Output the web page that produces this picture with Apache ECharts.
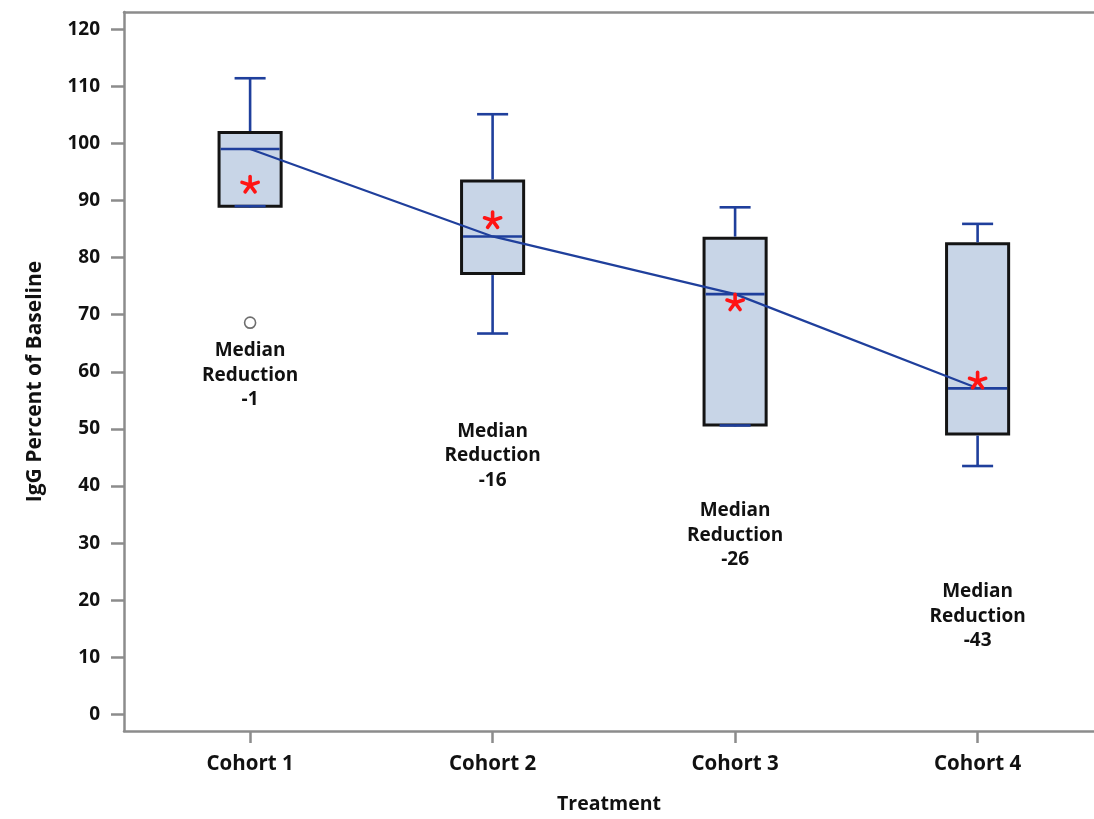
<!DOCTYPE html>
<html>
<head>
<meta charset="utf-8">
<script src="https://cdn.jsdelivr.net/npm/echarts@6/dist/echarts.min.js"></script>
<style>
  html, body { margin: 0; padding: 0; background: #ffffff; }
  #chart { width: 1094px; height: 819px; }
</style>
</head>
<body>
<div id="chart"></div>
<script>
// IgG percent of baseline by treatment cohort
const categories = ['Cohort 1', 'Cohort 2', 'Cohort 3', 'Cohort 4'];
const whiskerLow  = [89.0, 66.7, 50.6, 43.5];
const q1          = [89.0, 77.2, 50.7, 49.1];
const medians     = [99.0, 83.7, 73.6, 57.1];
const q3          = [101.9, 93.4, 83.4, 82.4];
const whiskerHigh = [111.4, 105.1, 88.8, 85.9];
const means       = [92.7, 86.5, 72.1, 58.4];
const outliers    = [[1, 68.6]];
const yTicks = [0, 10, 20, 30, 40, 50, 60, 70, 80, 90, 100, 110, 120];
const baseline = 100;

// vertical anchor (data units) of each "Median Reduction" annotation
const noteAnchor = [59.4, 45.3, 31.4, 17.2];

const FONT = '"Open Sans", "DejaVu Sans", sans-serif';
const BLUE = '#1f3f9c';
const AXIS_GRAY = '#8c8c8c';

const xPos = categories.map((_, i) => i + 1);

const boxData = xPos.map((x, i) => [x, whiskerLow[i], q1[i], medians[i], q3[i], whiskerHigh[i]]);
const meanData = xPos.map((x, i) => [x, means[i]]);
const medianLine = xPos.map((x, i) => [x, medians[i]]);
const noteData = xPos.map((x, i) => [x, noteAnchor[i], Math.round(medians[i] - baseline)]);

function renderBox(params, api) {
  const x = api.value(0);
  const bandPx = api.size([1, 0])[0];
  const hw = bandPx * 0.128;
  const cw = bandPx * 0.064;
  const c = api.coord([x, 0])[0];
  const yLow = api.coord([x, api.value(1)])[1];
  const yQ1 = api.coord([x, api.value(2)])[1];
  const yMed = api.coord([x, api.value(3)])[1];
  const yQ3 = api.coord([x, api.value(4)])[1];
  const yHigh = api.coord([x, api.value(5)])[1];
  const blue = { stroke: BLUE, lineWidth: 2.6 };
  return {
    type: 'group',
    children: [
      { type: 'rect', shape: { x: c - hw, y: yQ3, width: 2 * hw, height: yQ1 - yQ3 },
        style: { fill: '#c8d5e7', stroke: '#141414', lineWidth: 3 } },
      { type: 'line', shape: { x1: c - hw + 1.5, y1: yMed, x2: c + hw - 1.5, y2: yMed }, style: blue },
      { type: 'line', shape: { x1: c, y1: yQ3 - 1.5, x2: c, y2: yHigh }, style: blue },
      { type: 'line', shape: { x1: c - cw, y1: yHigh, x2: c + cw, y2: yHigh }, style: blue },
      { type: 'line', shape: { x1: c, y1: yQ1 + 1.5, x2: c, y2: yLow }, style: blue },
      { type: 'line', shape: { x1: c - cw, y1: yLow, x2: c + cw, y2: yLow }, style: blue }
    ]
  };
}

function renderAsterisk(params, api) {
  const p = api.coord([api.value(0), api.value(1)]);
  const r = 8.5;
  const children = [];
  for (let k = 0; k < 5; k++) {
    const a = (-90 + k * 72) * Math.PI / 180;
    children.push({
      type: 'line',
      shape: { x1: p[0], y1: p[1], x2: p[0] + r * Math.cos(a), y2: p[1] + r * Math.sin(a) },
      style: { stroke: '#ff1414', lineWidth: 3.6, lineCap: 'round' }
    });
  }
  return { type: 'group', children: children };
}

function renderNote(params, api) {
  const p = api.coord([api.value(0), api.value(1)]);
  return {
    type: 'text',
    x: p[0], y: p[1],
    style: {
      text: 'Median\nReduction\n' + api.value(2),
      fill: '#111111',
      font: 'bold 19px ' + FONT,
      lineHeight: 24.5,
      align: 'center',
      verticalAlign: 'middle'
    }
  };
}

const chart = echarts.init(document.getElementById('chart'), null, { renderer: 'canvas' });

chart.setOption({
  animation: false,
  backgroundColor: '#ffffff',
  grid: { left: 124, top: 12, right: 0, bottom: 86, containLabel: false },
  xAxis: [
    {
      type: 'value',
      min: 0.48, max: 4.48,
      name: 'Treatment',
      nameLocation: 'middle',
      nameGap: 63,
      nameTextStyle: { color: '#111111', fontFamily: FONT, fontWeight: 'bold', fontSize: 19.5 },
      axisLine: { show: true, onZero: false, lineStyle: { color: AXIS_GRAY, width: 2.5 } },
      axisTick: { show: true, length: 12, lineStyle: { color: AXIS_GRAY, width: 2.5 }, customValues: xPos },
      axisLabel: {
        color: '#111111', fontFamily: FONT, fontWeight: 'bold', fontSize: 20.5, margin: 23,
        customValues: xPos,
        formatter: v => categories[Math.round(v) - 1] || ''
      },
      splitLine: { show: false }
    },
    {
      type: 'value',
      position: 'top',
      min: 0.48, max: 4.48,
      axisLine: { show: true, onZero: false, lineStyle: { color: AXIS_GRAY, width: 2.5 } },
      axisTick: { show: false },
      axisLabel: { show: false },
      splitLine: { show: false }
    }
  ],
  yAxis: {
    type: 'value',
    min: -2.9, max: 123,
    name: 'IgG Percent of Baseline',
    nameLocation: 'middle',
    nameGap: 78,
    nameTextStyle: { color: '#111111', fontFamily: FONT, fontWeight: 'bold', fontSize: 21, padding: [0, 20, 0, 0] },
    axisLine: { show: true, onZero: false, lineStyle: { color: AXIS_GRAY, width: 2.5 } },
    axisTick: { show: true, length: 13, lineStyle: { color: AXIS_GRAY, width: 2.5 }, customValues: yTicks },
    axisLabel: {
      color: '#111111', fontFamily: FONT, fontWeight: 'bold', fontSize: 19, margin: 24,
      customValues: yTicks
    },
    splitLine: { show: false }
  },
  series: [
    {
      type: 'custom',
      name: 'box',
      renderItem: renderBox,
      data: boxData,
      encode: { x: 0, y: [1, 2, 3, 4, 5] },
      z: 2
    },
    {
      type: 'line',
      name: 'median trend',
      data: medianLine,
      symbol: 'none',
      lineStyle: { color: BLUE, width: 2.2 },
      z: 3
    },
    {
      type: 'custom',
      name: 'mean',
      renderItem: renderAsterisk,
      data: meanData,
      encode: { x: 0, y: 1 },
      z: 4
    },
    {
      type: 'scatter',
      name: 'outlier',
      data: outliers,
      symbol: 'circle',
      symbolSize: 11,
      itemStyle: { color: '#ffffff', borderColor: '#4a4a4a', borderWidth: 1.6 },
      z: 4
    },
    {
      type: 'custom',
      name: 'note',
      renderItem: renderNote,
      data: noteData,
      encode: { x: 0, y: 1 },
      z: 5
    }
  ]
});
</script>
</body>
</html>
